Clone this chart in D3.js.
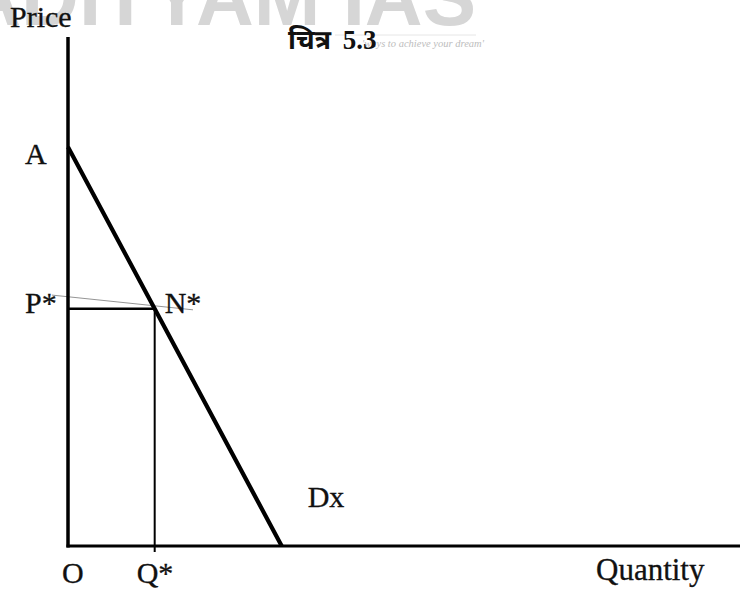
<!DOCTYPE html>
<html>
<head>
<meta charset="utf-8">
<script src="https://cdn.jsdelivr.net/npm/d3@7"></script>
<style>
  html, body { margin: 0; padding: 0; background: #fff; }
  svg { display: block; }
</style>
</head>
<body>
<svg id="chart" width="740" height="591"></svg>
<script>
// ---- data (quantity, price in chart units) ----
const demandQty   = [0, 12.9, 31.8];      // A, N*, Dx end
const demandPrice = [78.4, 46.6, 0];
const eqQty   = 12.9;                     // Q*
const eqPrice = 46.6;                     // P*
const guideQty   = [-2.4, 18.6];          // faint line through N*
const guidePrice = [49.3, 46.4];
const axisLabels = ["Price", "Quantity", "O"];
const pointLabels = ["A", "P*", "N*", "Q*", "Dx"];
const title = "चित्र 5.3";
const watermark = "ADITYAM IAS";
const tagline = "'ways to achieve your dream'";

// ---- scales ----
const x = d3.scaleLinear().domain([0, 100]).range([68, 740]);
const y = d3.scaleLinear().domain([0, 100]).range([546, 37]);

const svg = d3.select("#chart");
const serif = "'Liberation Serif', 'Times New Roman', serif";

// watermark
svg.append("text").attr("x", 476).attr("y", 25).attr("text-anchor", "end")
  .attr("font-family", "'Liberation Sans', Arial, sans-serif").attr("font-weight", "bold")
  .attr("font-size", 80).attr("fill", "#d6d6d6").text(watermark);
svg.append("line").attr("x1", 335).attr("x2", 476).attr("y1", 35).attr("y2", 35)
  .attr("stroke", "#e6e6e6").attr("stroke-width", 1);
svg.append("text").attr("x", 362).attr("y", 47)
  .attr("font-family", serif).attr("font-style", "italic")
  .attr("font-size", 10.5).attr("fill", "#bdbdbd").text(tagline);

// title
svg.append("text").attr("x", 288).attr("y", 49)
  .attr("font-family", serif + ", 'Noto Sans Devanagari', 'Lohit Devanagari', sans-serif")
  .attr("font-weight", "bold").attr("font-size", 27).attr("word-spacing", 5)
  .attr("fill", "#111").text(title);

// faint guide line
svg.append("line")
  .attr("x1", x(guideQty[0])).attr("y1", y(guidePrice[0]))
  .attr("x2", x(guideQty[1])).attr("y2", y(guidePrice[1]))
  .attr("stroke", "#888").attr("stroke-width", 0.9);

// axes
svg.append("line").attr("x1", x(0)).attr("x2", x(0)).attr("y1", y(100)).attr("y2", y(0) + 1.5)
  .attr("stroke", "#000").attr("stroke-width", 3.5);
svg.append("line").attr("x1", x(0) - 1.5).attr("x2", x(100)).attr("y1", y(0)).attr("y2", y(0))
  .attr("stroke", "#000").attr("stroke-width", 3);

// equilibrium lines
svg.append("line").attr("x1", x(0)).attr("x2", x(eqQty)).attr("y1", y(eqPrice)).attr("y2", y(eqPrice))
  .attr("stroke", "#000").attr("stroke-width", 2.6);
svg.append("line").attr("x1", x(eqQty)).attr("x2", x(eqQty)).attr("y1", y(eqPrice)).attr("y2", y(0) + 6)
  .attr("stroke", "#000").attr("stroke-width", 2);

// demand curve
const line = d3.line().x((d, i) => x(demandQty[i])).y((d, i) => y(demandPrice[i]));
svg.append("path").datum(demandQty).attr("d", line)
  .attr("fill", "none").attr("stroke", "#000").attr("stroke-width", 4.2);

// labels
function label(t, px, py, size) {
  svg.append("text").attr("x", px).attr("y", py)
    .attr("font-family", serif).attr("font-size", size || 30).attr("fill", "#111")
    .attr("stroke", "#111").attr("stroke-width", 0.3).text(t);
}
label(axisLabels[0], 10, 27, 30);
label(axisLabels[1], 596, 580, 31);
label(axisLabels[2], x(0) - 6, y(0) + 37);
label(pointLabels[0], x(0) - 43, y(demandPrice[0]) + 17);
label(pointLabels[1], x(0) - 43, y(eqPrice) + 4);
label(pointLabels[2], x(eqQty) + 10, y(eqPrice) + 4);
label(pointLabels[3], x(eqQty) - 18, y(0) + 37);
label(pointLabels[4], x(demandQty[2]) + 26, y(0) - 39);
</script>
</body>
</html>
